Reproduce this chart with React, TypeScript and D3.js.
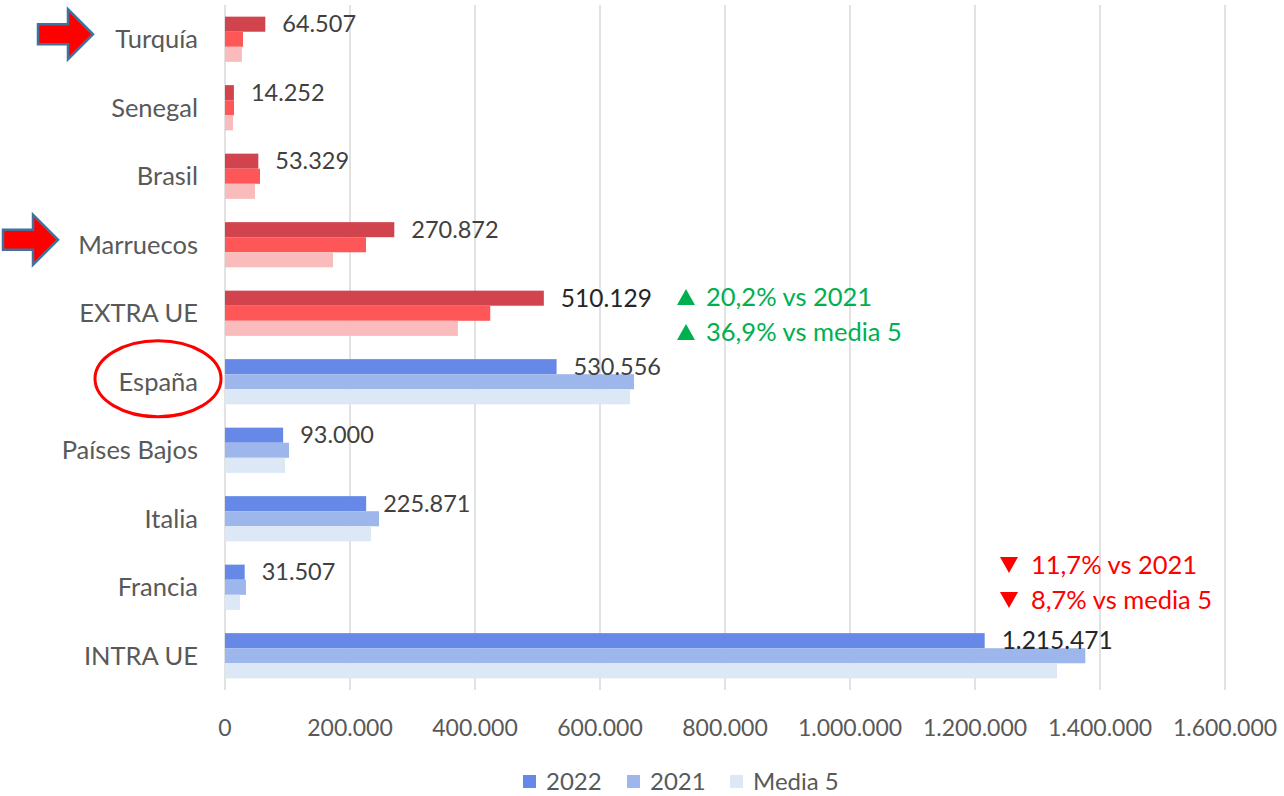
import React, { useEffect, useRef } from "react";
import * as d3 from "d3";

const categories = [
  "Turquía",
  "Senegal",
  "Brasil",
  "Marruecos",
  "EXTRA UE",
  "España",
  "Países Bajos",
  "Italia",
  "Francia",
  "INTRA UE",
];
const extraGroup = ["Turquía", "Senegal", "Brasil", "Marruecos", "EXTRA UE"];
const series = ["2022", "2021", "Media 5"];
const values2022 = [64507, 14252, 53329, 270872, 510129, 530556, 93000, 225871, 31507, 1215471];
const values2021 = [28800, 14400, 56000, 225600, 424400, 654400, 102400, 246400, 33600, 1376500];
const valuesMedia5 = [27000, 12800, 48000, 172800, 372600, 648000, 96000, 233600, 24000, 1331300];
const ticks = [0, 200000, 400000, 600000, 800000, 1000000, 1200000, 1400000, 1600000];
const arrowRows = ["Turquía", "Marruecos"];
const boldRows = ["EXTRA UE", "INTRA UE"];
const greenNotes = ["20,2% vs 2021", "36,9% vs media 5"];
const redNotes = ["11,7% vs 2021", "8,7% vs media 5"];

const blueColors = ["#6689E8", "#9DB6EC", "#DDE8F6"];
const redColors = ["#D1444E", "#FF5757", "#F9BBBB"];

const fmt = (v: number) => d3.format(",")(v).replace(/,/g, ".");

const App = () => {
  const svgRef = useRef<SVGSVGElement>(null);

  useEffect(() => {
    document.body.style.margin = "0";
    const svg = d3.select(svgRef.current);
    svg.selectAll("*").remove();

    const font = "Lato, 'Open Sans', sans-serif";
    const left = 225;
    const right = 1225;
    const top = 5;
    const bottom = 690;

    const x = d3.scaleLinear().domain([0, 1600000]).range([left, right]);
    const y = d3
      .scaleBand()
      .domain(categories)
      .range([top, bottom])
      .paddingInner(0.34)
      .paddingOuter(0.17);
    const ySub = d3.scaleBand().domain(series).range([0, y.bandwidth()]);

    const data = categories.map((c, i) => ({
      cat: c,
      vals: [values2022[i], values2021[i], valuesMedia5[i]],
    }));

    // grid
    svg
      .append("g")
      .selectAll("line")
      .data(ticks)
      .enter()
      .append("line")
      .attr("x1", (d) => x(d))
      .attr("x2", (d) => x(d))
      .attr("y1", top)
      .attr("y2", bottom)
      .attr("stroke", "#D9D9D9")
      .attr("stroke-width", 1.5);

    svg
      .append("g")
      .selectAll("text")
      .data(ticks)
      .enter()
      .append("text")
      .attr("x", (d) => x(d))
      .attr("y", 736)
      .attr("text-anchor", "middle")
      .style("font-family", font)
      .style("font-size", "23px")
      .style("fill", "#595959")
      .text((d) => fmt(d));

    // bars
    const groups = svg
      .append("g")
      .selectAll("g")
      .data(data)
      .enter()
      .append("g")
      .attr("transform", (d) => `translate(0,${y(d.cat)})`);

    groups
      .selectAll("rect")
      .data((d) => d.vals.map((v, j) => ({ v, j, cat: d.cat })))
      .enter()
      .append("rect")
      .attr("x", x(0))
      .attr("y", (d) => ySub(series[d.j])!)
      .attr("width", (d) => x(d.v) - x(0))
      .attr("height", ySub.bandwidth())
      .attr("fill", (d) =>
        extraGroup.includes(d.cat) ? redColors[d.j] : blueColors[d.j]
      );

    // value labels
    groups
      .append("text")
      .attr("x", (d) => x(d.vals[0]) + 17)
      .attr("y", ySub("2022")! + ySub.bandwidth() / 2)
      .attr("dy", "0.35em")
      .style("font-family", font)
      .style("font-size", (d) => (boldRows.includes(d.cat) ? "24.5px" : "23.5px"))
      .style("fill", (d) => (boldRows.includes(d.cat) ? "#262626" : "#404040"))
      .text((d) => fmt(d.vals[0]));

    // category labels
    svg
      .append("g")
      .selectAll("text")
      .data(categories)
      .enter()
      .append("text")
      .attr("x", 198)
      .attr("y", (d) => y(d)! + y.bandwidth() / 2)
      .attr("dy", "0.35em")
      .attr("text-anchor", "end")
      .style("font-family", font)
      .style("font-size", "25.5px")
      .style("fill", "#595959")
      .text((d) => d);

    // arrows
    const arrowX: Record<string, number> = { "Turquía": 38, "Marruecos": 3 };
    arrowRows.forEach((c) => {
      const cy = y(c)! + y.bandwidth() / 2 - 5;
      const x0 = arrowX[c];
      const pts = [
        [x0, cy - 10],
        [x0 + 30, cy - 10],
        [x0 + 30, cy - 25],
        [x0 + 55, cy],
        [x0 + 30, cy + 25],
        [x0 + 30, cy + 10],
        [x0, cy + 10],
      ];
      svg
        .append("path")
        .attr("d", d3.line()(pts as [number, number][]) + "Z")
        .attr("fill", "#FF0000")
        .attr("stroke", "#41719C")
        .attr("stroke-width", 2.5);
    });

    // circle around España
    svg
      .append("ellipse")
      .attr("cx", 158)
      .attr("cy", y("España")! + y.bandwidth() / 2 - 3)
      .attr("rx", 63)
      .attr("ry", 38)
      .attr("fill", "none")
      .attr("stroke", "#FF0000")
      .attr("stroke-width", 3);

    // notes with triangles
    const note = (
      lines: string[],
      tx: number,
      textX: number,
      y0: number,
      color: string,
      up: boolean
    ) => {
      const g = svg.append("g");
      lines.forEach((t, i) => {
        const by = y0 + i * 35;
        const tri = up
          ? [[tx, by - 1], [tx + 18, by - 1], [tx + 9, by - 17]]
          : [[tx, by - 17], [tx + 18, by - 17], [tx + 9, by - 1]];
        g.append("path")
          .attr("d", d3.line()(tri as [number, number][]) + "Z")
          .attr("fill", color);
        g.append("text")
          .attr("x", textX)
          .attr("y", by)
          .style("font-family", font)
          .style("font-size", "25.5px")
          .style("fill", color)
          .text(t);
      });
    };
    note(greenNotes, 677, 706, 306, "#00B050", true);
    note(redNotes, 1000, 1031, 574, "#FF0000", false);

    // legend
    const legendX = [523, 627, 730];
    const legend = svg
      .append("g")
      .selectAll("g")
      .data(series)
      .enter()
      .append("g")
      .attr("transform", (d, i) => `translate(${legendX[i]},775)`);
    legend
      .append("rect")
      .attr("width", 13)
      .attr("height", 13)
      .attr("fill", (d, i) => blueColors[i]);
    legend
      .append("text")
      .attr("x", 23)
      .attr("y", 7)
      .attr("dy", "0.35em")
      .style("font-family", font)
      .style("font-size", "24px")
      .style("fill", "#595959")
      .text((d) => d);
  }, []);

  return (
    <svg
      ref={svgRef}
      width={1284}
      height={796}
      style={{ display: "block", background: "#fff" }}
    ></svg>
  );
};

export default App;
